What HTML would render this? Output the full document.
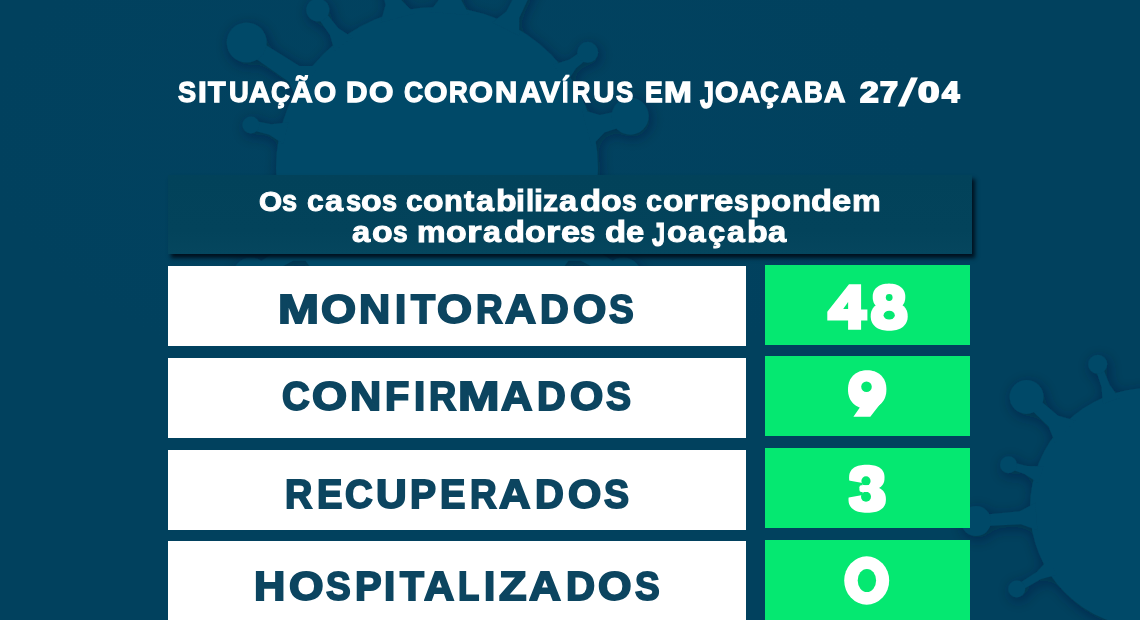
<!DOCTYPE html>
<html lang="pt-BR">
<head>
<meta charset="utf-8">
<title>Situação do Coronavírus em Joaçaba 27/04</title>
<style>
html,body{margin:0;padding:0;}
body{width:1140px;height:620px;overflow:hidden;background:#01415e;font-family:"Liberation Sans",sans-serif;}
#stage{position:relative;width:1140px;height:620px;overflow:hidden;background:#01415e;}
#bg{position:absolute;left:0;top:0;width:1140px;height:620px;}
.banner{position:absolute;left:168.3px;top:175.4px;width:803.9px;height:78.8px;background:linear-gradient(180deg,#02425a 0%,#03435b 70%,#05465e 100%);box-shadow:2.5px 4px 4px rgba(0,12,24,0.9);}
.row{position:absolute;left:168px;width:577.5px;height:80.3px;background:#ffffff;}
.num{position:absolute;left:765.4px;width:204.6px;height:80.3px;background:#05e871;}
.t{position:absolute;display:block;white-space:nowrap;line-height:1;font-weight:bold;transform-origin:0 0;margin:0;}
#text{position:absolute;left:0;top:0;width:1140px;height:620px;will-change:transform;}
#digits{position:absolute;left:0;top:0;width:1140px;height:620px;}
</style>
</head>
<body>
<div id="stage">
<svg id="bg" viewBox="0 0 1140 620">
<defs><filter id="sh" x="-20%" y="-20%" width="140%" height="140%"><feDropShadow dx="2" dy="3" stdDeviation="7" flood-color="#001c30" flood-opacity="0.45"/></filter>
<radialGradient id="glow" cx="0.40" cy="0.22" r="0.42"><stop offset="0" stop-color="#05496b" stop-opacity="0.16"/><stop offset="0.6" stop-color="#05496b" stop-opacity="0.08"/><stop offset="1" stop-color="#04486a" stop-opacity="0"/></radialGradient></defs>
<rect x="0" y="0" width="1140" height="620" fill="url(#glow)"/>
<g fill="#064867" filter="url(#sh)"><circle cx="437" cy="168" r="161"/>
<path d="M288.5 122.2 L271.6 124.3 L251.9 120.6 L249.9 129.4 L269.2 134.8 L283.4 144.1 Z"/>
<circle cx="250.9" cy="125.0" r="8.5"/>
<path d="M318.6 66.0 L299.5 65.9 L251.1 35.8 L242.3 49.2 L289.0 81.9 L296.6 99.4 Z"/>
<circle cx="246.7" cy="42.5" r="20"/>
<path d="M352.7 37.4 L338.4 28.2 L321.4 7.2 L314.2 12.6 L329.8 34.7 L334.7 51.0 Z"/>
<circle cx="317.8" cy="9.9" r="11.5"/>
<path d="M414.6 13.6 L401.7 0.5 L385.4 -56.2 L371.9 -52.7 L385.5 4.7 L380.7 22.5 Z"/>
<path d="M469.4 15.1 L460.3 -1.7 L463.4 -60.6 L447.5 -61.9 L441.1 -3.2 L429.5 11.9 Z"/>
<path d="M519.1 35.7 L519.2 17.9 L544.3 -35.5 L533.5 -40.9 L506.3 11.5 L492.2 22.4 Z"/>
<path d="M566.8 82.6 L576.0 68.2 L590.5 55.9 L585.0 48.8 L569.4 59.6 L553.1 64.7 Z"/>
<circle cx="587.7" cy="52.3" r="10.5"/>
<path d="M591.6 146.0 L604.5 132.4 L632.1 123.5 L628.2 109.0 L599.8 115.0 L581.9 109.8 Z"/>
<circle cx="630.2" cy="116.2" r="18.5"/>
<path d="M588.9 200.7 L605.6 197.1 L634.4 200.3 L635.7 191.4 L607.1 186.5 L592.1 178.4 Z"/>
<circle cx="635.1" cy="195.8" r="10"/>
<path d="M562.5 260.7 L580.9 260.8 L619.7 281.6 L626.7 269.4 L589.3 246.2 L580.0 230.3 Z"/>
<circle cx="623.2" cy="275.5" r="18"/>
<path d="M294.0 230.3 L284.7 246.2 L247.3 269.4 L254.3 281.6 L293.1 260.8 L311.5 260.7 Z"/>
<circle cx="250.8" cy="275.5" r="18"/>
<path d="M281.9 178.4 L266.9 186.5 L238.3 191.4 L239.6 200.3 L268.4 197.1 L285.1 200.7 Z"/>
<circle cx="238.9" cy="195.8" r="10"/></g>
<g fill="#064867" filter="url(#sh)"><circle cx="1150" cy="508" r="120"/>
<path d="M1043.5 466.3 L1026.9 466.0 L1009.5 461.4 L1007.4 468.1 L1024.5 474.0 L1038.4 483.0 Z"/>
<circle cx="1008.5" cy="464.7" r="8.5"/>
<path d="M1075.3 420.6 L1058.2 415.7 L1030.7 392.5 L1022.6 401.4 L1048.6 426.4 L1055.2 442.9 Z"/>
<circle cx="1026.6" cy="396.9" r="17"/>
<path d="M1119.2 397.9 L1109.5 384.4 L1101.0 363.0 L1094.4 365.4 L1101.6 387.3 L1102.8 403.9 Z"/>
<circle cx="1097.7" cy="364.2" r="9.5"/>
<path d="M1035.3 502.8 L1019.9 511.2 L975.6 515.6 L976.4 526.6 L1020.9 524.3 L1037.4 530.3 Z"/>
<circle cx="976.0" cy="521.1" r="15"/>
<path d="M1048.0 559.7 L1036.7 571.9 L1014.9 586.1 L1018.5 592.0 L1041.1 579.1 L1057.1 574.7 Z"/>
<circle cx="1016.7" cy="589.0" r="8.5"/>
<path d="M1171.1 395.4 L1166.7 379.0 L1168.4 349.0 L1159.5 348.2 L1156.0 378.0 L1148.7 393.5 Z"/>
<circle cx="1163.9" cy="348.6" r="12"/></g>
</svg>
<div class="banner"></div>
<div class="row" style="top:265.8px"></div>
<div class="row" style="top:357.9px"></div>
<div class="row" style="top:449.6px"></div>
<div class="row" style="top:541.2px"></div>
<div class="num" style="top:264.5px"></div>
<div class="num" style="top:356.2px"></div>
<div class="num" style="top:448.2px"></div>
<div class="num" style="top:539.8px"></div>
<div id="text">
<div class="g" id="t1">
<span class="t" style="left:177.53px;top:76.61px;font-size:30.0px;color:#ffffff;-webkit-text-stroke:1.3px #ffffff;transform:scaleX(0.9047)">S</span>
<span class="t" style="left:197.52px;top:76.61px;font-size:30.0px;color:#ffffff;-webkit-text-stroke:1.3px #ffffff;transform:scaleX(1.0505)">I</span>
<span class="t" style="left:207.57px;top:76.61px;font-size:30.0px;color:#ffffff;-webkit-text-stroke:1.3px #ffffff;transform:scaleX(0.9603)">T</span>
<span class="t" style="left:228.55px;top:76.61px;font-size:30.0px;color:#ffffff;-webkit-text-stroke:1.3px #ffffff;transform:scaleX(0.9124)">U</span>
<span class="t" style="left:249.04px;top:76.61px;font-size:30.0px;color:#ffffff;-webkit-text-stroke:1.3px #ffffff;transform:scaleX(0.9886)">A</span>
<span class="t" style="left:270.80px;top:76.61px;font-size:30.0px;color:#ffffff;-webkit-text-stroke:1.3px #ffffff;transform:scaleX(0.8742)">Ç</span>
<span class="t" style="left:290.94px;top:76.61px;font-size:30.0px;color:#ffffff;-webkit-text-stroke:1.3px #ffffff;transform:scaleX(0.9977)">Ã</span>
<span class="t" style="left:313.77px;top:76.61px;font-size:30.0px;color:#ffffff;-webkit-text-stroke:1.3px #ffffff;transform:scaleX(0.9478)">O</span>
</div>
<div class="g" id="t2">
<span class="t" style="left:346.39px;top:76.61px;font-size:30.0px;color:#ffffff;-webkit-text-stroke:1.3px #ffffff;transform:scaleX(0.9935)">D</span>
<span class="t" style="left:369.01px;top:76.61px;font-size:30.0px;color:#ffffff;-webkit-text-stroke:1.3px #ffffff;transform:scaleX(1.0466)">O</span>
</div>
<div class="g" id="t3">
<span class="t" style="left:404.20px;top:76.61px;font-size:30.0px;color:#ffffff;-webkit-text-stroke:1.3px #ffffff;transform:scaleX(0.8837)">C</span>
<span class="t" style="left:424.04px;top:76.61px;font-size:30.0px;color:#ffffff;-webkit-text-stroke:1.3px #ffffff;transform:scaleX(1.0062)">O</span>
<span class="t" style="left:449.36px;top:76.61px;font-size:30.0px;color:#ffffff;-webkit-text-stroke:1.3px #ffffff;transform:scaleX(0.8633)">R</span>
<span class="t" style="left:469.23px;top:76.61px;font-size:30.0px;color:#ffffff;-webkit-text-stroke:1.3px #ffffff;transform:scaleX(1.0241)">O</span>
<span class="t" style="left:495.24px;top:76.61px;font-size:30.0px;color:#ffffff;-webkit-text-stroke:1.3px #ffffff;transform:scaleX(1.0286)">N</span>
<span class="t" style="left:519.54px;top:76.61px;font-size:30.0px;color:#ffffff;-webkit-text-stroke:1.3px #ffffff;transform:scaleX(0.9886)">A</span>
<span class="t" style="left:540.48px;top:76.61px;font-size:30.0px;color:#ffffff;-webkit-text-stroke:1.3px #ffffff;transform:scaleX(1.0020)">V</span>
<span class="t" style="left:562.29px;top:76.61px;font-size:30.0px;color:#ffffff;-webkit-text-stroke:1.3px #ffffff;transform:scaleX(0.7690)">Í</span>
<span class="t" style="left:572.28px;top:76.61px;font-size:30.0px;color:#ffffff;-webkit-text-stroke:1.3px #ffffff;transform:scaleX(0.8489)">R</span>
<span class="t" style="left:592.66px;top:76.61px;font-size:30.0px;color:#ffffff;-webkit-text-stroke:1.3px #ffffff;transform:scaleX(0.9892)">U</span>
<span class="t" style="left:615.94px;top:76.61px;font-size:30.0px;color:#ffffff;-webkit-text-stroke:1.3px #ffffff;transform:scaleX(0.8584)">S</span>
</div>
<div class="g" id="t4">
<span class="t" style="left:644.84px;top:76.61px;font-size:30.0px;color:#ffffff;-webkit-text-stroke:1.3px #ffffff;transform:scaleX(0.8827)">E</span>
<span class="t" style="left:663.83px;top:76.61px;font-size:30.0px;color:#ffffff;-webkit-text-stroke:1.3px #ffffff;transform:scaleX(1.1130)">M</span>
</div>
<div class="g" id="t5">
<span class="t" style="left:699.72px;top:75.60px;font-size:30.0px;color:#ffffff;-webkit-text-stroke:1.3px #ffffff;transform:scale(0.8328,1.260)">J</span>
<span class="t" style="left:715.44px;top:76.61px;font-size:30.0px;color:#ffffff;-webkit-text-stroke:1.3px #ffffff;transform:scaleX(1.0017)">O</span>
<span class="t" style="left:738.94px;top:76.61px;font-size:30.0px;color:#ffffff;-webkit-text-stroke:1.3px #ffffff;transform:scaleX(0.9656)">A</span>
<span class="t" style="left:760.20px;top:76.61px;font-size:30.0px;color:#ffffff;-webkit-text-stroke:1.3px #ffffff;transform:scaleX(0.8742)">Ç</span>
<span class="t" style="left:780.64px;top:76.61px;font-size:30.0px;color:#ffffff;-webkit-text-stroke:1.3px #ffffff;transform:scaleX(0.9794)">A</span>
<span class="t" style="left:804.17px;top:76.61px;font-size:30.0px;color:#ffffff;-webkit-text-stroke:1.3px #ffffff;transform:scaleX(0.8611)">B</span>
<span class="t" style="left:823.84px;top:76.61px;font-size:30.0px;color:#ffffff;-webkit-text-stroke:1.3px #ffffff;transform:scaleX(0.9886)">A</span>
</div>
<div class="g" id="t6">
<span class="t" style="left:859.84px;top:76.74px;font-size:29.6px;color:#ffffff;-webkit-text-stroke:1.9px #ffffff;transform:scaleX(1.1322)">2</span>
<span class="t" style="left:880.16px;top:76.74px;font-size:29.6px;color:#ffffff;-webkit-text-stroke:1.9px #ffffff;transform:scaleX(1.0878)">7</span>
<span class="t" style="left:898.76px;top:72.89px;font-size:30.0px;color:#ffffff;-webkit-text-stroke:0.9px #ffffff;font-weight:normal;transform:scale(2.1160,1.300)">/</span>
<span class="t" style="left:917.58px;top:76.74px;font-size:29.6px;color:#ffffff;-webkit-text-stroke:1.9px #ffffff;transform:scaleX(1.3029)">0</span>
<span class="t" style="left:941.56px;top:76.74px;font-size:29.6px;color:#ffffff;-webkit-text-stroke:1.9px #ffffff;transform:scaleX(1.0583)">4</span>
</div>
<div class="g" id="b1">
<span class="t" style="left:259.18px;top:187.57px;font-size:27.8px;color:#ffffff;-webkit-text-stroke:1.0px #ffffff;transform:scaleX(1.0674)">O</span>
<span class="t" style="left:282.49px;top:185.54px;font-size:30.2px;color:#ffffff;-webkit-text-stroke:1.0px #ffffff;transform:scaleX(0.8997)">s</span>
</div>
<div class="g" id="b2">
<span class="t" style="left:307.48px;top:185.54px;font-size:30.2px;color:#ffffff;-webkit-text-stroke:1.0px #ffffff;transform:scaleX(0.9924)">c</span>
<span class="t" style="left:324.82px;top:185.54px;font-size:30.2px;color:#ffffff;-webkit-text-stroke:1.0px #ffffff;transform:scaleX(1.0793)">a</span>
<span class="t" style="left:345.69px;top:185.54px;font-size:30.2px;color:#ffffff;-webkit-text-stroke:1.0px #ffffff;transform:scaleX(0.9061)">s</span>
<span class="t" style="left:361.10px;top:185.54px;font-size:30.2px;color:#ffffff;-webkit-text-stroke:1.0px #ffffff;transform:scaleX(1.1218)">o</span>
<span class="t" style="left:381.79px;top:185.54px;font-size:30.2px;color:#ffffff;-webkit-text-stroke:1.0px #ffffff;transform:scaleX(0.8997)">s</span>
</div>
<div class="g" id="b3">
<span class="t" style="left:406.29px;top:185.54px;font-size:30.2px;color:#ffffff;-webkit-text-stroke:1.0px #ffffff;transform:scaleX(0.9861)">c</span>
<span class="t" style="left:423.20px;top:185.54px;font-size:30.2px;color:#ffffff;-webkit-text-stroke:1.0px #ffffff;transform:scaleX(1.1160)">o</span>
<span class="t" style="left:443.84px;top:185.54px;font-size:30.2px;color:#ffffff;-webkit-text-stroke:1.0px #ffffff;transform:scaleX(1.0220)">n</span>
<span class="t" style="left:463.95px;top:185.54px;font-size:30.2px;color:#ffffff;-webkit-text-stroke:1.0px #ffffff;transform:scaleX(1.0230)">t</span>
<span class="t" style="left:475.62px;top:185.54px;font-size:30.2px;color:#ffffff;-webkit-text-stroke:1.0px #ffffff;transform:scaleX(1.0736)">a</span>
<span class="t" style="left:496.00px;top:185.54px;font-size:30.2px;color:#ffffff;-webkit-text-stroke:1.0px #ffffff;transform:scaleX(1.1177)">b</span>
<span class="t" style="left:516.47px;top:185.54px;font-size:30.2px;color:#ffffff;-webkit-text-stroke:1.0px #ffffff;transform:scaleX(1.0664)">i</span>
<span class="t" style="left:525.82px;top:185.54px;font-size:30.2px;color:#ffffff;-webkit-text-stroke:1.0px #ffffff;transform:scaleX(0.9729)">l</span>
<span class="t" style="left:533.97px;top:185.54px;font-size:30.2px;color:#ffffff;-webkit-text-stroke:1.0px #ffffff;transform:scaleX(1.0664)">i</span>
<span class="t" style="left:543.27px;top:185.54px;font-size:30.2px;color:#ffffff;-webkit-text-stroke:1.0px #ffffff;transform:scaleX(1.0024)">z</span>
<span class="t" style="left:558.92px;top:185.54px;font-size:30.2px;color:#ffffff;-webkit-text-stroke:1.0px #ffffff;transform:scaleX(1.0793)">a</span>
<span class="t" style="left:579.72px;top:185.54px;font-size:30.2px;color:#ffffff;-webkit-text-stroke:1.0px #ffffff;transform:scaleX(1.1448)">d</span>
<span class="t" style="left:600.90px;top:185.54px;font-size:30.2px;color:#ffffff;-webkit-text-stroke:1.0px #ffffff;transform:scaleX(1.1218)">o</span>
<span class="t" style="left:621.61px;top:185.54px;font-size:30.2px;color:#ffffff;-webkit-text-stroke:1.0px #ffffff;transform:scaleX(0.8740)">s</span>
</div>
<div class="g" id="b4">
<span class="t" style="left:646.31px;top:185.54px;font-size:30.2px;color:#ffffff;-webkit-text-stroke:1.0px #ffffff;transform:scaleX(0.9484)">c</span>
<span class="t" style="left:662.71px;top:185.54px;font-size:30.2px;color:#ffffff;-webkit-text-stroke:1.0px #ffffff;transform:scaleX(1.1102)">o</span>
<span class="t" style="left:683.41px;top:185.54px;font-size:30.2px;color:#ffffff;-webkit-text-stroke:1.0px #ffffff;transform:scaleX(1.2535)">r</span>
<span class="t" style="left:698.68px;top:185.54px;font-size:30.2px;color:#ffffff;-webkit-text-stroke:1.0px #ffffff;transform:scaleX(1.2726)">r</span>
<span class="t" style="left:714.49px;top:185.54px;font-size:30.2px;color:#ffffff;-webkit-text-stroke:1.0px #ffffff;transform:scaleX(1.1453)">e</span>
<span class="t" style="left:734.41px;top:185.54px;font-size:30.2px;color:#ffffff;-webkit-text-stroke:1.0px #ffffff;transform:scaleX(0.8740)">s</span>
<span class="t" style="left:749.59px;top:185.54px;font-size:30.2px;color:#ffffff;-webkit-text-stroke:1.0px #ffffff;transform:scaleX(1.1238)">p</span>
<span class="t" style="left:771.11px;top:185.54px;font-size:30.2px;color:#ffffff;-webkit-text-stroke:1.0px #ffffff;transform:scaleX(1.0986)">o</span>
<span class="t" style="left:791.83px;top:185.54px;font-size:30.2px;color:#ffffff;-webkit-text-stroke:1.0px #ffffff;transform:scaleX(1.0283)">n</span>
<span class="t" style="left:811.03px;top:185.54px;font-size:30.2px;color:#ffffff;-webkit-text-stroke:1.0px #ffffff;transform:scaleX(1.1387)">d</span>
<span class="t" style="left:832.09px;top:185.54px;font-size:30.2px;color:#ffffff;-webkit-text-stroke:1.0px #ffffff;transform:scaleX(1.1390)">e</span>
<span class="t" style="left:851.87px;top:185.54px;font-size:30.2px;color:#ffffff;-webkit-text-stroke:1.0px #ffffff;transform:scaleX(1.0685)">m</span>
</div>
<div class="g" id="c1">
<span class="t" style="left:352.12px;top:216.84px;font-size:30.2px;color:#ffffff;-webkit-text-stroke:1.0px #ffffff;transform:scaleX(1.0851)">a</span>
<span class="t" style="left:372.40px;top:216.84px;font-size:30.2px;color:#ffffff;-webkit-text-stroke:1.0px #ffffff;transform:scaleX(1.1218)">o</span>
<span class="t" style="left:393.11px;top:216.84px;font-size:30.2px;color:#ffffff;-webkit-text-stroke:1.0px #ffffff;transform:scaleX(0.8740)">s</span>
</div>
<div class="g" id="c2">
<span class="t" style="left:417.28px;top:216.84px;font-size:30.2px;color:#ffffff;-webkit-text-stroke:1.0px #ffffff;transform:scaleX(1.0644)">m</span>
<span class="t" style="left:446.10px;top:216.84px;font-size:30.2px;color:#ffffff;-webkit-text-stroke:1.0px #ffffff;transform:scaleX(1.1218)">o</span>
<span class="t" style="left:467.02px;top:216.84px;font-size:30.2px;color:#ffffff;-webkit-text-stroke:1.0px #ffffff;transform:scaleX(1.2439)">r</span>
<span class="t" style="left:482.92px;top:216.84px;font-size:30.2px;color:#ffffff;-webkit-text-stroke:1.0px #ffffff;transform:scaleX(1.0678)">a</span>
<span class="t" style="left:503.63px;top:216.84px;font-size:30.2px;color:#ffffff;-webkit-text-stroke:1.0px #ffffff;transform:scaleX(1.1387)">d</span>
<span class="t" style="left:524.70px;top:216.84px;font-size:30.2px;color:#ffffff;-webkit-text-stroke:1.0px #ffffff;transform:scaleX(1.1218)">o</span>
<span class="t" style="left:545.66px;top:216.84px;font-size:30.2px;color:#ffffff;-webkit-text-stroke:1.0px #ffffff;transform:scaleX(1.2152)">r</span>
<span class="t" style="left:560.79px;top:216.84px;font-size:30.2px;color:#ffffff;-webkit-text-stroke:1.0px #ffffff;transform:scaleX(1.1326)">e</span>
<span class="t" style="left:580.09px;top:216.84px;font-size:30.2px;color:#ffffff;-webkit-text-stroke:1.0px #ffffff;transform:scaleX(0.8997)">s</span>
</div>
<div class="g" id="c3">
<span class="t" style="left:604.92px;top:216.84px;font-size:30.2px;color:#ffffff;-webkit-text-stroke:1.0px #ffffff;transform:scaleX(1.1448)">d</span>
<span class="t" style="left:626.03px;top:216.84px;font-size:30.2px;color:#ffffff;-webkit-text-stroke:1.0px #ffffff;transform:scaleX(1.0820)">e</span>
</div>
<div class="g" id="c4">
<span class="t" style="left:652.14px;top:218.49px;font-size:27.8px;color:#ffffff;-webkit-text-stroke:1.0px #ffffff;transform:scale(0.8514,1.220)">J</span>
<span class="t" style="left:666.72px;top:216.84px;font-size:30.2px;color:#ffffff;-webkit-text-stroke:1.0px #ffffff;transform:scaleX(1.0928)">o</span>
<span class="t" style="left:687.63px;top:216.84px;font-size:30.2px;color:#ffffff;-webkit-text-stroke:1.0px #ffffff;transform:scaleX(1.0505)">a</span>
<span class="t" style="left:708.36px;top:216.84px;font-size:30.2px;color:#ffffff;-webkit-text-stroke:1.0px #ffffff;transform:scaleX(1.0238)">ç</span>
<span class="t" style="left:726.63px;top:216.84px;font-size:30.2px;color:#ffffff;-webkit-text-stroke:1.0px #ffffff;transform:scaleX(1.0620)">a</span>
<span class="t" style="left:746.89px;top:216.84px;font-size:30.2px;color:#ffffff;-webkit-text-stroke:1.0px #ffffff;transform:scaleX(1.1238)">b</span>
<span class="t" style="left:768.32px;top:216.84px;font-size:30.2px;color:#ffffff;-webkit-text-stroke:1.0px #ffffff;transform:scaleX(1.0851)">a</span>
</div>
<div class="g" id="l1">
<span class="t" style="left:277.93px;top:289.28px;font-size:40.9px;color:#0c4560;-webkit-text-stroke:1.9px #0c4560;transform:scaleX(1.2044)">M</span>
<span class="t" style="left:320.95px;top:289.28px;font-size:40.9px;color:#0c4560;-webkit-text-stroke:1.9px #0c4560;transform:scaleX(1.1027)">O</span>
<span class="t" style="left:359.18px;top:289.28px;font-size:40.9px;color:#0c4560;-webkit-text-stroke:1.9px #0c4560;transform:scaleX(1.0571)">N</span>
<span class="t" style="left:394.90px;top:289.28px;font-size:40.9px;color:#0c4560;-webkit-text-stroke:1.9px #0c4560;transform:scaleX(0.9894)">I</span>
<span class="t" style="left:410.82px;top:289.28px;font-size:40.9px;color:#0c4560;-webkit-text-stroke:1.9px #0c4560;transform:scaleX(0.9670)">T</span>
<span class="t" style="left:436.75px;top:289.28px;font-size:40.9px;color:#0c4560;-webkit-text-stroke:1.9px #0c4560;transform:scaleX(1.1027)">O</span>
<span class="t" style="left:475.85px;top:289.28px;font-size:40.9px;color:#0c4560;-webkit-text-stroke:1.9px #0c4560;transform:scaleX(0.9020)">R</span>
<span class="t" style="left:504.67px;top:289.28px;font-size:40.9px;color:#0c4560;-webkit-text-stroke:1.9px #0c4560;transform:scaleX(1.0499)">A</span>
<span class="t" style="left:540.43px;top:289.28px;font-size:40.9px;color:#0c4560;-webkit-text-stroke:1.9px #0c4560;transform:scaleX(0.9733)">D</span>
<span class="t" style="left:573.29px;top:289.28px;font-size:40.9px;color:#0c4560;-webkit-text-stroke:1.9px #0c4560;transform:scaleX(1.0471)">O</span>
<span class="t" style="left:609.41px;top:289.28px;font-size:40.9px;color:#0c4560;-webkit-text-stroke:1.9px #0c4560;transform:scaleX(0.9053)">S</span>
</div>
<div class="g" id="l2">
<span class="t" style="left:282.36px;top:376.28px;font-size:40.9px;color:#0c4560;-webkit-text-stroke:1.9px #0c4560;transform:scaleX(0.9374)">C</span>
<span class="t" style="left:311.75px;top:376.28px;font-size:40.9px;color:#0c4560;-webkit-text-stroke:1.9px #0c4560;transform:scaleX(1.1027)">O</span>
<span class="t" style="left:349.98px;top:376.28px;font-size:40.9px;color:#0c4560;-webkit-text-stroke:1.9px #0c4560;transform:scaleX(1.0571)">N</span>
<span class="t" style="left:385.13px;top:376.28px;font-size:40.9px;color:#0c4560;-webkit-text-stroke:1.9px #0c4560;transform:scaleX(0.9710)">F</span>
<span class="t" style="left:413.70px;top:376.28px;font-size:40.9px;color:#0c4560;-webkit-text-stroke:1.9px #0c4560;transform:scaleX(0.9894)">I</span>
<span class="t" style="left:429.11px;top:376.28px;font-size:40.9px;color:#0c4560;-webkit-text-stroke:1.9px #0c4560;transform:scaleX(0.9230)">R</span>
<span class="t" style="left:458.11px;top:376.28px;font-size:40.9px;color:#0c4560;-webkit-text-stroke:1.9px #0c4560;transform:scaleX(1.2174)">M</span>
<span class="t" style="left:500.98px;top:376.28px;font-size:40.9px;color:#0c4560;-webkit-text-stroke:1.9px #0c4560;transform:scaleX(1.0632)">A</span>
<span class="t" style="left:536.73px;top:376.28px;font-size:40.9px;color:#0c4560;-webkit-text-stroke:1.9px #0c4560;transform:scaleX(0.9733)">D</span>
<span class="t" style="left:569.59px;top:376.28px;font-size:40.9px;color:#0c4560;-webkit-text-stroke:1.9px #0c4560;transform:scaleX(1.0471)">O</span>
<span class="t" style="left:605.71px;top:376.28px;font-size:40.9px;color:#0c4560;-webkit-text-stroke:1.9px #0c4560;transform:scaleX(0.9166)">S</span>
</div>
<div class="g" id="l3">
<span class="t" style="left:285.21px;top:474.48px;font-size:40.9px;color:#0c4560;-webkit-text-stroke:1.9px #0c4560;transform:scaleX(0.9230)">R</span>
<span class="t" style="left:316.50px;top:474.48px;font-size:40.9px;color:#0c4560;-webkit-text-stroke:1.9px #0c4560;transform:scaleX(0.9308)">E</span>
<span class="t" style="left:345.06px;top:474.48px;font-size:40.9px;color:#0c4560;-webkit-text-stroke:1.9px #0c4560;transform:scaleX(0.9374)">C</span>
<span class="t" style="left:376.08px;top:474.48px;font-size:40.9px;color:#0c4560;-webkit-text-stroke:1.9px #0c4560;transform:scaleX(1.0394)">U</span>
<span class="t" style="left:409.96px;top:474.48px;font-size:40.9px;color:#0c4560;-webkit-text-stroke:1.9px #0c4560;transform:scaleX(0.9543)">P</span>
<span class="t" style="left:440.20px;top:474.48px;font-size:40.9px;color:#0c4560;-webkit-text-stroke:1.9px #0c4560;transform:scaleX(0.9308)">E</span>
<span class="t" style="left:469.65px;top:474.48px;font-size:40.9px;color:#0c4560;-webkit-text-stroke:1.9px #0c4560;transform:scaleX(0.9020)">R</span>
<span class="t" style="left:499.18px;top:474.48px;font-size:40.9px;color:#0c4560;-webkit-text-stroke:1.9px #0c4560;transform:scaleX(1.0632)">A</span>
<span class="t" style="left:534.82px;top:474.48px;font-size:40.9px;color:#0c4560;-webkit-text-stroke:1.9px #0c4560;transform:scaleX(0.9769)">D</span>
<span class="t" style="left:567.79px;top:474.48px;font-size:40.9px;color:#0c4560;-webkit-text-stroke:1.9px #0c4560;transform:scaleX(1.0471)">O</span>
<span class="t" style="left:603.91px;top:474.48px;font-size:40.9px;color:#0c4560;-webkit-text-stroke:1.9px #0c4560;transform:scaleX(0.9166)">S</span>
</div>
<div class="g" id="l4">
<span class="t" style="left:254.28px;top:565.68px;font-size:40.9px;color:#0c4560;-webkit-text-stroke:1.9px #0c4560;transform:scaleX(1.0609)">H</span>
<span class="t" style="left:289.16px;top:565.68px;font-size:40.9px;color:#0c4560;-webkit-text-stroke:1.9px #0c4560;transform:scaleX(1.0864)">O</span>
<span class="t" style="left:325.91px;top:565.68px;font-size:40.9px;color:#0c4560;-webkit-text-stroke:1.9px #0c4560;transform:scaleX(0.9053)">S</span>
<span class="t" style="left:354.53px;top:565.68px;font-size:40.9px;color:#0c4560;-webkit-text-stroke:1.9px #0c4560;transform:scaleX(0.9742)">P</span>
<span class="t" style="left:383.80px;top:565.68px;font-size:40.9px;color:#0c4560;-webkit-text-stroke:1.9px #0c4560;transform:scaleX(0.9894)">I</span>
<span class="t" style="left:400.11px;top:565.68px;font-size:40.9px;color:#0c4560;-webkit-text-stroke:1.9px #0c4560;transform:scaleX(0.9593)">T</span>
<span class="t" style="left:424.36px;top:565.68px;font-size:40.9px;color:#0c4560;-webkit-text-stroke:1.9px #0c4560;transform:scaleX(1.0232)">A</span>
<span class="t" style="left:458.23px;top:565.68px;font-size:40.9px;color:#0c4560;-webkit-text-stroke:1.9px #0c4560;transform:scaleX(0.8540)">L</span>
<span class="t" style="left:484.40px;top:565.68px;font-size:40.9px;color:#0c4560;-webkit-text-stroke:1.9px #0c4560;transform:scaleX(0.9894)">I</span>
<span class="t" style="left:499.41px;top:565.68px;font-size:40.9px;color:#0c4560;-webkit-text-stroke:1.9px #0c4560;transform:scaleX(1.1027)">Z</span>
<span class="t" style="left:529.18px;top:565.68px;font-size:40.9px;color:#0c4560;-webkit-text-stroke:1.9px #0c4560;transform:scaleX(1.0799)">A</span>
<span class="t" style="left:565.51px;top:565.68px;font-size:40.9px;color:#0c4560;-webkit-text-stroke:1.9px #0c4560;transform:scaleX(0.9843)">D</span>
<span class="t" style="left:598.08px;top:565.68px;font-size:40.9px;color:#0c4560;-webkit-text-stroke:1.9px #0c4560;transform:scaleX(1.0536)">O</span>
<span class="t" style="left:634.91px;top:565.68px;font-size:40.9px;color:#0c4560;-webkit-text-stroke:1.9px #0c4560;transform:scaleX(0.9053)">S</span>
</div>
</div>
<svg id="digits" viewBox="0 0 1140 620">
<g fill="#ffffff">
<path d="M849 284.2 H861.1 V309.4 H867.4 V320.5 H861.1 V329.7 H848.1 V320.5 H827.3 V311.8 Z"/>
<path d="M905.30 297.00 L905.24 298.53 L905.08 299.83 L904.81 301.03 L904.42 302.16 L903.94 303.23 L903.34 304.24 L902.65 305.18 L901.86 306.05 L900.98 306.85 L900.00 307.57 L898.94 308.22 L897.80 308.79 L896.58 309.28 L895.28 309.68 L893.90 309.99 L892.44 310.22 L890.86 310.35 L889.00 310.40 L887.14 310.35 L885.56 310.22 L884.10 309.99 L882.72 309.68 L881.42 309.28 L880.20 308.79 L879.06 308.22 L878.00 307.57 L877.02 306.85 L876.14 306.05 L875.35 305.18 L874.66 304.24 L874.06 303.23 L873.58 302.16 L873.19 301.03 L872.92 299.83 L872.76 298.53 L872.70 297.00 L872.76 295.47 L872.92 294.17 L873.19 292.97 L873.58 291.84 L874.06 290.77 L874.66 289.76 L875.35 288.82 L876.14 287.95 L877.02 287.15 L878.00 286.43 L879.06 285.78 L880.20 285.21 L881.42 284.72 L882.72 284.32 L884.10 284.01 L885.56 283.78 L887.14 283.65 L889.00 283.60 L890.86 283.65 L892.44 283.78 L893.90 284.01 L895.28 284.32 L896.58 284.72 L897.80 285.21 L898.94 285.78 L900.00 286.43 L900.98 287.15 L901.86 287.95 L902.65 288.82 L903.34 289.76 L903.94 290.77 L904.42 291.84 L904.81 292.97 L905.08 294.17 L905.24 295.47 Z"/>
<path d="M907.70 316.20 L907.64 317.87 L907.45 319.28 L907.14 320.59 L906.70 321.83 L906.15 322.99 L905.48 324.08 L904.69 325.11 L903.80 326.06 L902.80 326.93 L901.69 327.72 L900.49 328.43 L899.19 329.05 L897.80 329.58 L896.33 330.01 L894.76 330.36 L893.10 330.60 L891.31 330.75 L889.20 330.80 L887.09 330.75 L885.30 330.60 L883.64 330.36 L882.07 330.01 L880.60 329.58 L879.21 329.05 L877.91 328.43 L876.71 327.72 L875.60 326.93 L874.60 326.06 L873.71 325.11 L872.92 324.08 L872.25 322.99 L871.70 321.83 L871.26 320.59 L870.95 319.28 L870.76 317.87 L870.70 316.20 L870.76 314.53 L870.95 313.12 L871.26 311.81 L871.70 310.57 L872.25 309.41 L872.92 308.32 L873.71 307.29 L874.60 306.34 L875.60 305.47 L876.71 304.68 L877.91 303.97 L879.21 303.35 L880.60 302.82 L882.07 302.39 L883.64 302.04 L885.30 301.80 L887.09 301.65 L889.20 301.60 L891.31 301.65 L893.10 301.80 L894.76 302.04 L896.33 302.39 L897.80 302.82 L899.19 303.35 L900.49 303.97 L901.69 304.68 L902.80 305.47 L903.80 306.34 L904.69 307.29 L905.48 308.32 L906.15 309.41 L906.70 310.57 L907.14 311.81 L907.45 313.12 L907.64 314.53 Z"/>
<path d="M886.40 389.50 L886.33 391.59 L886.13 393.41 L885.80 395.12 L885.34 396.74 L884.76 398.28 L884.05 399.72 L883.22 401.08 L882.27 402.35 L881.21 403.51 L880.05 404.57 L878.78 405.52 L877.42 406.35 L875.98 407.06 L874.44 407.64 L872.82 408.10 L871.11 408.43 L869.29 408.63 L867.20 408.70 L865.11 408.63 L863.29 408.43 L861.58 408.10 L859.96 407.64 L858.42 407.06 L856.98 406.35 L855.62 405.52 L854.35 404.57 L853.19 403.51 L852.13 402.35 L851.18 401.08 L850.35 399.72 L849.64 398.28 L849.06 396.74 L848.60 395.12 L848.27 393.41 L848.07 391.59 L848.00 389.50 L848.07 387.41 L848.27 385.59 L848.60 383.88 L849.06 382.26 L849.64 380.72 L850.35 379.28 L851.18 377.92 L852.13 376.65 L853.19 375.49 L854.35 374.43 L855.62 373.48 L856.98 372.65 L858.42 371.94 L859.96 371.36 L861.58 370.90 L863.29 370.57 L865.11 370.37 L867.20 370.30 L869.29 370.37 L871.11 370.57 L872.82 370.90 L874.44 371.36 L875.98 371.94 L877.42 372.65 L878.78 373.48 L880.05 374.43 L881.21 375.49 L882.27 376.65 L883.22 377.92 L884.05 379.28 L884.76 380.72 L885.34 382.26 L885.80 383.88 L886.13 385.59 L886.33 387.41 Z"/>
<path d="M853.4 416.7 L862.6 403.6 L867.2 389.5 L882.32 401.33 L870.3 416.7 Z"/>
<path d="M884.50 477.70 L884.44 479.39 L884.28 480.70 L884.00 481.88 L883.61 482.98 L883.11 483.99 L882.50 484.94 L881.79 485.82 L880.97 486.63 L880.06 487.36 L879.05 488.03 L877.94 488.62 L876.73 489.14 L875.44 489.58 L874.04 489.95 L872.54 490.23 L870.91 490.44 L869.12 490.56 L866.80 490.60 L864.48 490.56 L862.69 490.44 L861.06 490.23 L859.56 489.95 L858.16 489.58 L856.87 489.14 L855.66 488.62 L854.55 488.03 L853.54 487.36 L852.63 486.63 L851.81 485.82 L851.10 484.94 L850.49 483.99 L849.99 482.98 L849.60 481.88 L849.32 480.70 L849.16 479.39 L849.10 477.70 L849.16 476.01 L849.32 474.70 L849.60 473.52 L849.99 472.42 L850.49 471.41 L851.10 470.46 L851.81 469.58 L852.63 468.77 L853.54 468.04 L854.55 467.37 L855.66 466.78 L856.87 466.26 L858.16 465.82 L859.56 465.45 L861.06 465.17 L862.69 464.96 L864.48 464.84 L866.80 464.80 L869.12 464.84 L870.91 464.96 L872.54 465.17 L874.04 465.45 L875.44 465.82 L876.73 466.26 L877.94 466.78 L879.05 467.37 L880.06 468.04 L880.97 468.77 L881.79 469.58 L882.50 470.46 L883.11 471.41 L883.61 472.42 L884.00 473.52 L884.28 474.70 L884.44 476.01 Z"/>
<path d="M885.90 499.30 L885.84 501.05 L885.66 502.42 L885.37 503.64 L884.96 504.78 L884.43 505.84 L883.79 506.82 L883.04 507.73 L882.18 508.57 L881.21 509.34 L880.14 510.03 L878.97 510.65 L877.70 511.19 L876.32 511.65 L874.85 512.02 L873.26 512.32 L871.55 512.53 L869.65 512.66 L867.20 512.70 L864.75 512.66 L862.85 512.53 L861.14 512.32 L859.55 512.02 L858.08 511.65 L856.70 511.19 L855.43 510.65 L854.26 510.03 L853.19 509.34 L852.22 508.57 L851.36 507.73 L850.61 506.82 L849.97 505.84 L849.44 504.78 L849.03 503.64 L848.74 502.42 L848.56 501.05 L848.50 499.30 L848.56 497.55 L848.74 496.18 L849.03 494.96 L849.44 493.82 L849.97 492.76 L850.61 491.78 L851.36 490.87 L852.22 490.03 L853.19 489.26 L854.26 488.57 L855.43 487.95 L856.70 487.41 L858.08 486.95 L859.55 486.58 L861.14 486.28 L862.85 486.07 L864.75 485.94 L867.20 485.90 L869.65 485.94 L871.55 486.07 L873.26 486.28 L874.85 486.58 L876.32 486.95 L877.70 487.41 L878.97 487.95 L880.14 488.57 L881.21 489.26 L882.18 490.03 L883.04 490.87 L883.79 491.78 L884.43 492.76 L884.96 493.82 L885.37 494.96 L885.66 496.18 L885.84 497.55 Z"/>
<ellipse cx="866.7" cy="580.5" rx="22.5" ry="24.2"/>
</g>
<g fill="#05e871">
<path d="M848.1 302.1 V308.9 H843.2 Z"/>
<circle cx="889.2" cy="297.5" r="3.4"/>
<ellipse cx="889.2" cy="315.2" rx="5.6" ry="4.4"/>
<circle cx="866.5" cy="386.7" r="5.3"/>
<path d="M846 480.0 L862.6 483.0 V495.0 L846 497.9 Z"/>
<circle cx="866" cy="480.9" r="4.6"/>
<circle cx="866" cy="496.7" r="5.0"/>
<ellipse cx="866.9" cy="580.5" rx="9.2" ry="11.6"/>
</g>
<g fill="#ffffff"><rect x="859.4" y="485.3" width="15" height="6.8" rx="2"/></g>
</svg>
</div>
</body>
</html>
